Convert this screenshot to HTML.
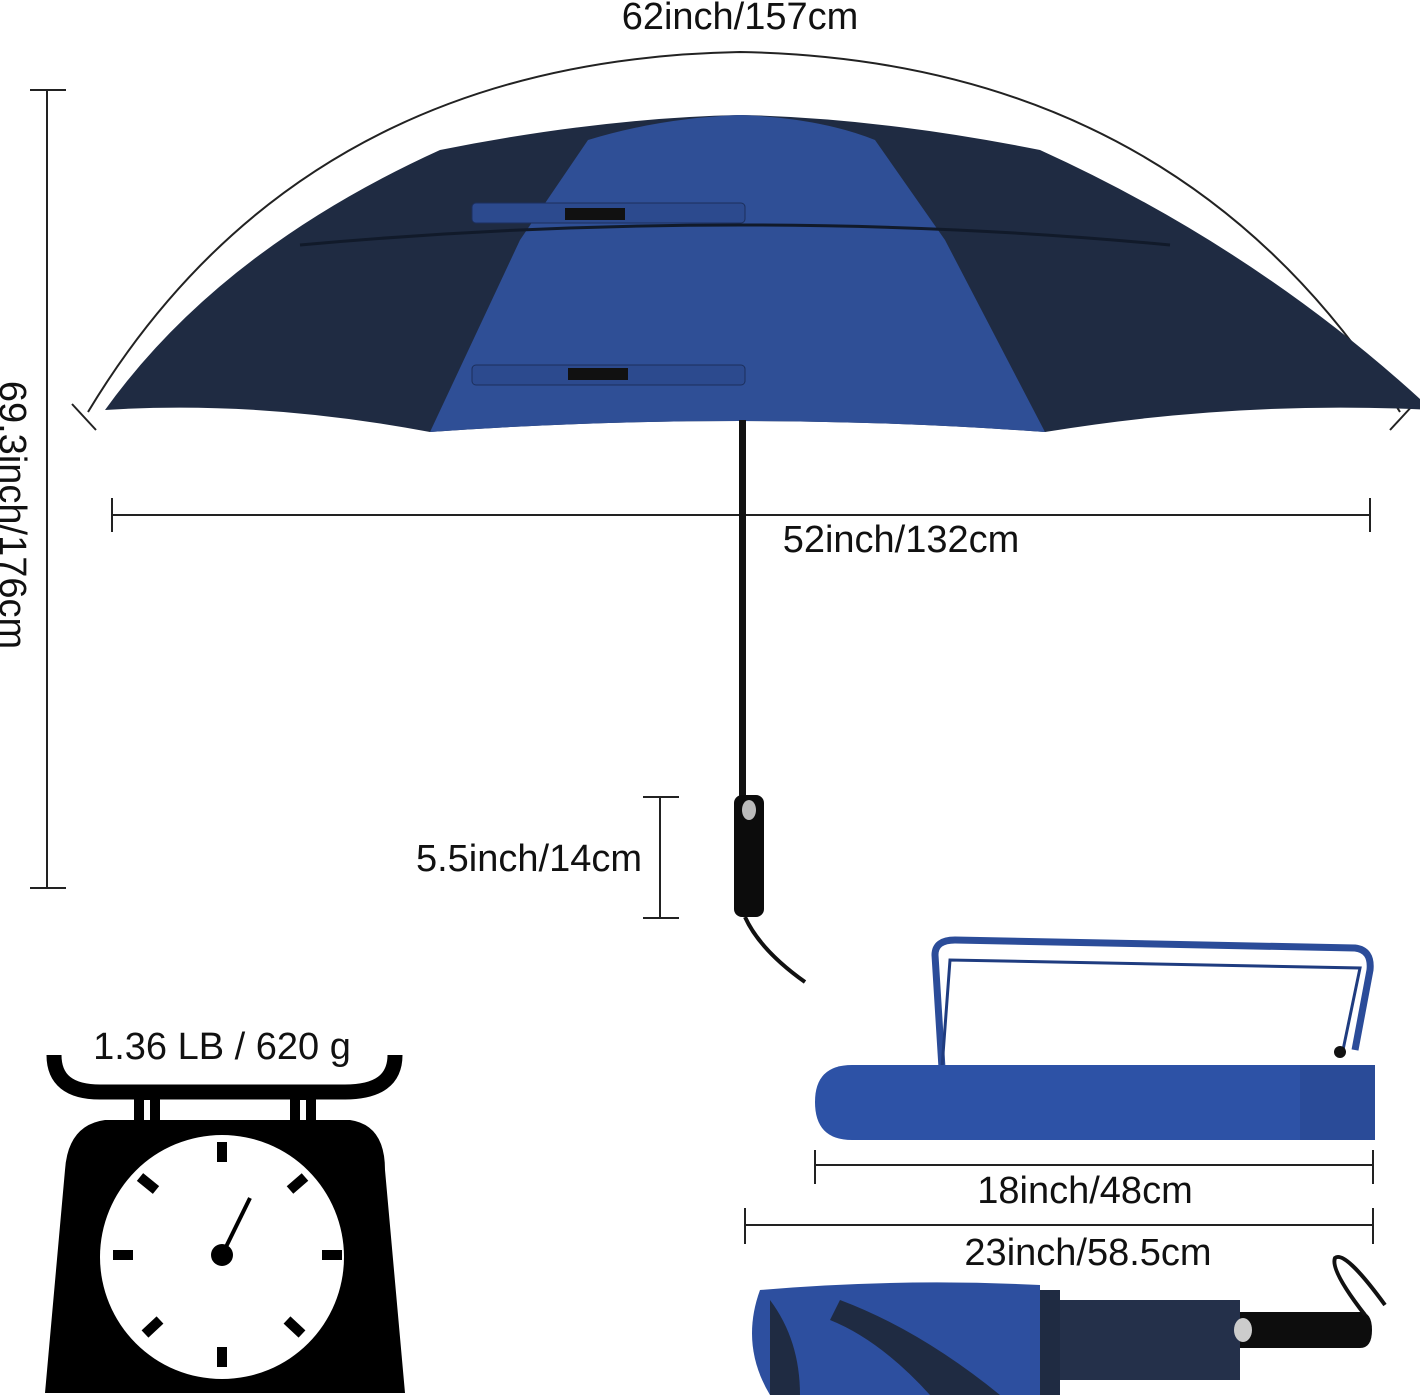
<!DOCTYPE html>
<html><head><meta charset="utf-8"><style>
html,body{margin:0;padding:0;background:#fff;}
svg{display:block}
text{font-family:"Liberation Sans",sans-serif;fill:#111}
</style></head><body>
<svg width="1420" height="1399" viewBox="0 0 1420 1399" xmlns="http://www.w3.org/2000/svg">
<path d="M88,412 Q300,60 740,52 Q1180,60 1400,412" fill="none" stroke="#222" stroke-width="2"/>
<line x1="72" y1="404" x2="96" y2="430" stroke="#222" stroke-width="2"/>
<line x1="1414" y1="404" x2="1390" y2="430" stroke="#222" stroke-width="2"/>
<text x="740" y="29" font-size="38" text-anchor="middle">62inch/157cm</text>

<line x1="47" y1="90" x2="47" y2="888" stroke="#222" stroke-width="2"/>
<line x1="30" y1="90" x2="66" y2="90" stroke="#222" stroke-width="2"/>
<line x1="30" y1="888" x2="66" y2="888" stroke="#222" stroke-width="2"/>
<text transform="translate(0,515) rotate(90)" font-size="38" text-anchor="middle">69.3inch/176cm</text>

<path d="M105,410 Q220,250 440,150 Q600,118 740,115 Q880,118 1040,150 Q1260,250 1432,410 Q1240,400 1045,432 Q740,410 430,432 Q260,400 105,410 Z" fill="#1f2b42"/>
<path d="M588,140 Q660,118 740,115 Q820,118 875,140 L945,240 L1045,432 Q740,410 430,432 L520,240 Z" fill="#2f4f96"/>
<path d="M300,245 Q520,225 740,225 Q960,225 1170,245" fill="none" stroke="#111a2a" stroke-width="3"/>
<rect x="472" y="203" width="273" height="20" rx="4" fill="#2c4a8e" stroke="#1c2f5c"/>
<rect x="565" y="208" width="60" height="12" fill="#111"/>
<rect x="472" y="365" width="273" height="20" rx="4" fill="#2c4a8e" stroke="#1c2f5c"/>
<rect x="568" y="368" width="60" height="12" fill="#111"/>

<line x1="112" y1="515" x2="1370" y2="515" stroke="#222" stroke-width="2"/>
<line x1="112" y1="498" x2="112" y2="532" stroke="#222" stroke-width="2"/>
<line x1="1370" y1="498" x2="1370" y2="532" stroke="#222" stroke-width="2"/>
<text x="901" y="552" font-size="38" text-anchor="middle">52inch/132cm</text>

<rect x="739" y="420" width="7" height="378" fill="#111"/>
<rect x="734" y="795" width="30" height="122" rx="8" fill="#0c0c0c"/>
<ellipse cx="749" cy="810" rx="7" ry="10" fill="#bbb"/>
<path d="M745,917 Q760,950 805,982" fill="none" stroke="#111" stroke-width="4"/>

<line x1="660" y1="797" x2="660" y2="918" stroke="#222" stroke-width="2"/>
<line x1="643" y1="797" x2="679" y2="797" stroke="#222" stroke-width="2"/>
<line x1="643" y1="918" x2="679" y2="918" stroke="#222" stroke-width="2"/>
<text x="529" y="871" font-size="38" text-anchor="middle">5.5inch/14cm</text>

<text x="222" y="1059" font-size="38" text-anchor="middle">1.36 LB / 620 g</text>
<path d="M54,1055 Q54,1092 100,1092 L345,1092 Q395,1092 395,1055" fill="none" stroke="#000" stroke-width="15"/>
<rect x="134" y="1097" width="26" height="26" fill="#000"/><rect x="144" y="1100" width="6" height="20" fill="#fff"/>
<rect x="290" y="1097" width="26" height="26" fill="#000"/><rect x="300" y="1100" width="6" height="20" fill="#fff"/>
<path d="M105,1120 L350,1120 Q385,1125 385,1170 L405,1393 L45,1393 L65,1170 Q68,1125 105,1120 Z" fill="#000"/>
<circle cx="222" cy="1257" r="122" fill="#fff"/>
<g stroke="#000" stroke-width="10">
<line x1="222" y1="1142" x2="222" y2="1162"/><line x1="222" y1="1347" x2="222" y2="1367"/>
<line x1="113" y1="1255" x2="133" y2="1255"/><line x1="322" y1="1255" x2="342" y2="1255"/>
<line x1="140" y1="1177" x2="156" y2="1190"/><line x1="305" y1="1177" x2="290" y2="1190"/>
<line x1="145" y1="1334" x2="160" y2="1320"/><line x1="302" y1="1334" x2="287" y2="1320"/>
</g>
<line x1="222" y1="1255" x2="250" y2="1198" stroke="#000" stroke-width="4"/>
<circle cx="222" cy="1255" r="11" fill="#000"/>

<path d="M942,1068 L935,955 Q935,940 955,940 L1355,948 Q1372,950 1370,970 L1355,1050" fill="none" stroke="#2b4c99" stroke-width="7"/>
<path d="M942,1068 L950,960 L1360,968 L1343,1050" fill="none" stroke="#1f3c80" stroke-width="3"/>
<path d="M852,1065 L1375,1065 L1375,1140 L852,1140 Q815,1140 815,1102 Q815,1065 852,1065 Z" fill="#2d52a6"/>
<rect x="1300" y="1065" width="75" height="75" fill="#2a4b98"/>
<circle cx="1340" cy="1052" r="6" fill="#111"/>

<line x1="815" y1="1165" x2="1373" y2="1165" stroke="#222" stroke-width="2"/>
<line x1="815" y1="1150" x2="815" y2="1184" stroke="#222" stroke-width="2"/>
<line x1="1373" y1="1150" x2="1373" y2="1184" stroke="#222" stroke-width="2"/>
<text x="1085" y="1203" font-size="38" text-anchor="middle">18inch/48cm</text>

<line x1="745" y1="1225" x2="1373" y2="1225" stroke="#222" stroke-width="2"/>
<line x1="745" y1="1208" x2="745" y2="1244" stroke="#222" stroke-width="2"/>
<line x1="1373" y1="1208" x2="1373" y2="1244" stroke="#222" stroke-width="2"/>
<text x="1088" y="1265" font-size="38" text-anchor="middle">23inch/58.5cm</text>

<path d="M760,1290 Q900,1278 1040,1285 L1040,1395 L770,1395 Q740,1345 760,1290 Z" fill="#2d4f9f"/>
<path d="M840,1300 Q920,1330 1000,1395 L930,1395 Q880,1340 830,1320 Z" fill="#1f2b42"/>
<path d="M770,1300 Q800,1340 800,1395 L770,1395 Z" fill="#1f2b42"/>
<rect x="1040" y="1290" width="20" height="105" fill="#1f2b42"/>
<rect x="1060" y="1300" width="180" height="80" fill="#24304a"/>
<path d="M1240,1312 L1360,1312 Q1372,1312 1372,1330 Q1372,1348 1360,1348 L1240,1348 Z" fill="#0d0d0d"/>
<ellipse cx="1243" cy="1330" rx="9" ry="12" fill="#ccc"/>
<path d="M1365,1315 Q1330,1270 1335,1258 Q1345,1250 1385,1305" fill="none" stroke="#111" stroke-width="4"/>
</svg>
</body></html>
